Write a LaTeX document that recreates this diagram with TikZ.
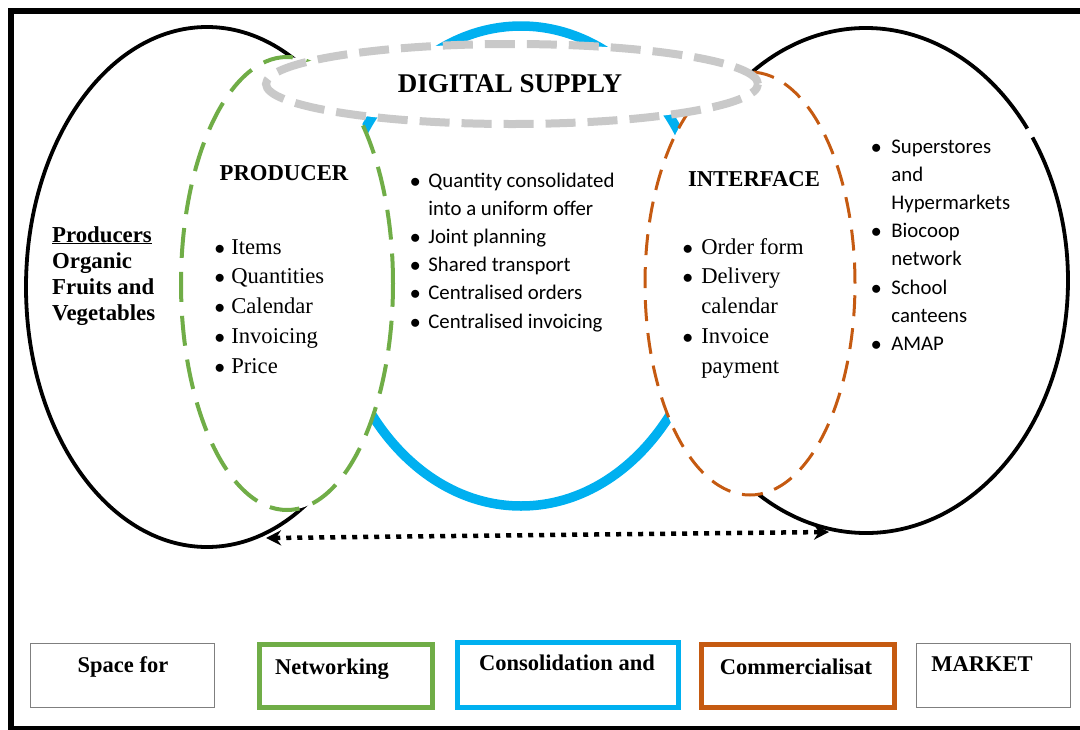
\documentclass[tikz,border=0pt]{standalone}
\usepackage{fontspec}
\setmainfont{Liberation Serif}
\setsansfont{Carlito}
\usetikzlibrary{arrows.meta,positioning}

\definecolor{netgreen}{HTML}{70AD47}
\definecolor{consblue}{HTML}{00B0F0}
\definecolor{commorange}{HTML}{C55A11}
\definecolor{digigray}{HTML}{C9C9C9}
\definecolor{framegray}{HTML}{7F7F7F}

\begin{document}
\begin{tikzpicture}[x=1pt, y=-1pt,
        ring/.style = {line width=3.8pt},
        zone/.style = {fill=white, line width=4pt},
        heading/.style = {font=\fontsize{22.7}{26}\selectfont\bfseries, inner sep=0pt, anchor=base},
        serifitems/.style = {font=\fontsize{22.6}{29.8}\selectfont, inner sep=0pt, anchor=base west},
        sansitems/.style = {font=\sffamily\fontsize{20.8}{28.2}\selectfont, inner sep=0pt, anchor=base west},
        legend/.style = {draw, inner sep=0pt},
        legendtext/.style = {font=\fontsize{22.5}{26}\selectfont\bfseries, inner sep=0pt, anchor=base}]

    \useasboundingbox (0,0) rectangle (1080,729);
    \clip (0,0) rectangle (1080,729);
    \draw[line width=6pt] (11,11) rectangle (1100,729);

    \draw[ring] (207,287) ellipse [x radius=181pt, y radius=260pt];
    \draw[ring] (866,280.5) ++(37:202pt and 252.5pt)
        arc [start angle=37, end angle=394.5, x radius=202pt, y radius=252.5pt];
    \draw[consblue, line width=9.5pt] (521,266) ellipse [x radius=190pt, y radius=240pt];

    \draw[zone, draw=netgreen, dash pattern=on 30pt off 14pt] (287,283.5) ellipse [x radius=106pt, y radius=226.5pt];
    \draw[zone, draw=commorange, line width=3pt, dash pattern=on 21pt off 12pt] (750,283.5) ellipse [x radius=105pt, y radius=211.5pt];
    \draw[zone, draw=digigray, line width=8pt, dash pattern=on 30pt off 12pt] (512,84) ellipse [x radius=246pt, y radius=40pt];

    \node[heading, font=\fontsize{27}{30}\selectfont\bfseries] (digital) at (510,92) {DIGITAL SUPPLY};
    \node[heading] (producer) at (284,180) {PRODUCER};
    \node[heading] (interface) at (754,186) {INTERFACE};

    \node[anchor=base west, inner sep=0pt, font=\fontsize{22.8}{26}\selectfont\bfseries] (growers) at (52,242)
        {\begin{tabular}[t]{@{}l@{}}\underline{Producers}\\ Organic\\ Fruits and\\ Vegetables\end{tabular}};

    \node[serifitems] (prodlist) at (214.5,254) {\begin{tabular}[t]{@{}l@{\hspace{6.3pt}}l@{}}
        $\bullet$ & Items\\ $\bullet$ & Quantities\\ $\bullet$ & Calendar\\
        $\bullet$ & Invoicing\\ $\bullet$ & Price\end{tabular}};
    \node[serifitems] (interlist) at (682.5,254) {\begin{tabular}[t]{@{}l@{\hspace{8.3pt}}l@{}}
        $\bullet$ & Order form\\ $\bullet$ & Delivery\\ & calendar\\
        $\bullet$ & Invoice\\ & payment\end{tabular}};
    \node[sansitems] (supplylist) at (410,187) {\begin{tabular}[t]{@{}l@{\hspace{7.8pt}}l@{}}
        $\bullet$ & Quantity consolidated\\ & into a uniform offer\\ $\bullet$ & Joint planning\\
        $\bullet$ & Shared transport\\ $\bullet$ & Centralised orders\\
        $\bullet$ & Centralised invoicing\end{tabular}};
    \node[sansitems] (marketlist) at (871,153) {\begin{tabular}[t]{@{}l@{\hspace{9.8pt}}l@{}}
        $\bullet$ & Superstores\\ & and\\ & Hypermarkets\\ $\bullet$ & Biocoop\\ & network\\
        $\bullet$ & School\\ & canteens\\ $\bullet$ & AMAP\end{tabular}};

    \coordinate (pleft) at (266,538);
    \coordinate (pright) at (829,532);
    \draw[line width=4.5pt, dash pattern=on 5pt off 6pt,
        {Stealth[length=15pt,width=15pt]}-{Stealth[length=15pt,width=15pt]}] (pleft) -- (pright);

    \node[legend, draw=framegray, line width=1.5pt, minimum width=184pt, minimum height=64pt] (space) at (122.5,675.5) {};
    \node[legend, draw=netgreen, line width=5pt, minimum width=173pt, minimum height=63pt] (networking) at (346,676) {};
    \node[legend, draw=consblue, line width=5pt, minimum width=221pt, minimum height=65pt] (consolidation) at (568,675) {};
    \node[legend, draw=commorange, line width=5pt, minimum width=193pt, minimum height=63pt] (commercial) at (798,676) {};
    \node[legend, draw=framegray, line width=1.5pt, minimum width=154pt, minimum height=64pt] (market) at (993.5,675.5) {};

    \node[legendtext] (spacelbl) at (123,672) {Space for};
    \node[legendtext] (networkinglbl) at (332,674) {Networking};
    \node[legendtext] (consolidationlbl) at (567,670) {Consolidation and};
    \node[legendtext] (commerciallbl) at (796,674) {Commercialisat};
    \node[legendtext] (marketlbl) at (982,671) {MARKET};

\end{tikzpicture}
\end{document}
